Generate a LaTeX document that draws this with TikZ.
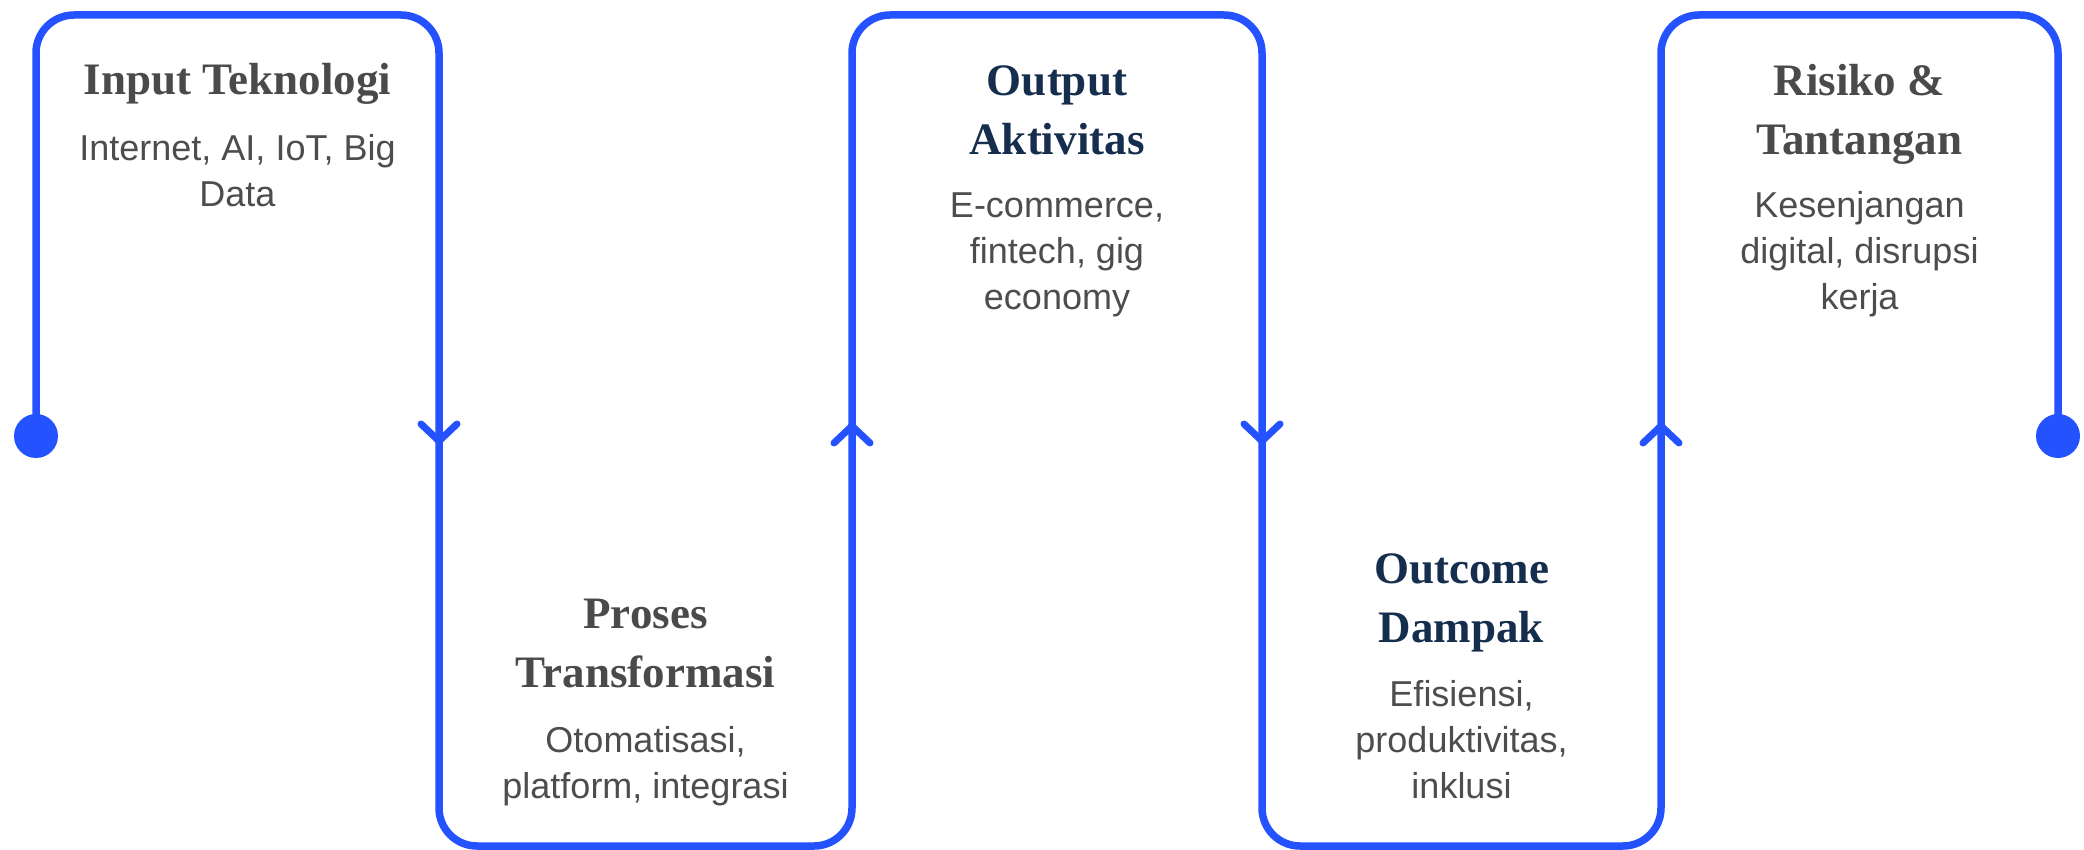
\documentclass[tikz,border=0pt]{standalone}
\usepackage{fontspec}
\usepackage{tikz}
\newfontfamily\headfont{Liberation Serif}
\newfontfamily\bodyfont{Liberation Sans}
\definecolor{flowblue}{HTML}{2452FF}
\definecolor{headgrey}{HTML}{4A4A4A}
\definecolor{headnavy}{HTML}{162E4D}
\definecolor{bodygrey}{HTML}{4D4D4D}

\tikzset{
  head/.style={anchor=base, align=center, inner sep=0pt, text=headgrey,
    font=\headfont\bfseries\fontsize{22.5}{29.5}\selectfont},
  headdark/.style={head, text=headnavy},
  body/.style={anchor=base, align=center, inner sep=0pt, text=bodygrey,
    font=\bodyfont\fontsize{18}{23}\selectfont},
  flow/.style={draw=flowblue, line width=3.75pt, rounded corners=19pt},
  chevron/.style={draw=flowblue, line width=3.5pt, line cap=round, line join=round}
}

\begin{document}
\begin{tikzpicture}[x=0.5pt, y=-0.5pt]
    \useasboundingbox (0, 0) rectangle (2084, 850);

    % start and end of the flow line
    \coordinate (start) at (36, 436);
    \coordinate (end) at (2058, 436);

    % draw the meander line
    \draw[flow] (start) -- (36, 15) -- (439, 15) -- (439, 846) -- (852, 846)
      -- (852, 15) -- (1262, 15) -- (1262, 846) -- (1661, 846)
      -- (1661, 15) -- (2058, 15) -- (end);

    % draw end dots
    \fill[flowblue] (start) circle (11pt);
    \fill[flowblue] (end) circle (11pt);

    % draw chevrons
    \foreach \x in {439, 1262}
      \draw[chevron] (\x-18, 424) -- (\x, 441) -- (\x+18, 424);
    \foreach \x in {852, 1661}
      \draw[chevron] (\x-18, 443) -- (\x, 426) -- (\x+18, 443);

    % draw labels (base = last line)
    \node[head] (inputhead) at (237.5, 95) {Input Teknologi};
    \node[body] (inputtext) at (237.5, 207) {Internet, AI, IoT, Big\\Data};

    \node[head] (proseshead) at (645.5, 687) {Proses\\Transformasi};
    \node[body] (prosestext) at (645.5, 798) {Otomatisasi,\\platform, integrasi};

    \node[headdark] (outputhead) at (1057, 155) {Output\\Aktivitas};
    \node[body] (outputtext) at (1057, 310) {E-commerce,\\fintech, gig\\economy};

    \node[headdark] (outcomehead) at (1461.5, 642) {Outcome\\Dampak};
    \node[body] (outcometext) at (1461.5, 798) {Efisiensi,\\produktivitas,\\inklusi};

    \node[head] (risikohead) at (1859.5, 155) {Risiko \&\\Tantangan};
    \node[body] (risikotext) at (1859.5, 310) {Kesenjangan\\digital, disrupsi\\kerja};

\end{tikzpicture}
\end{document}
